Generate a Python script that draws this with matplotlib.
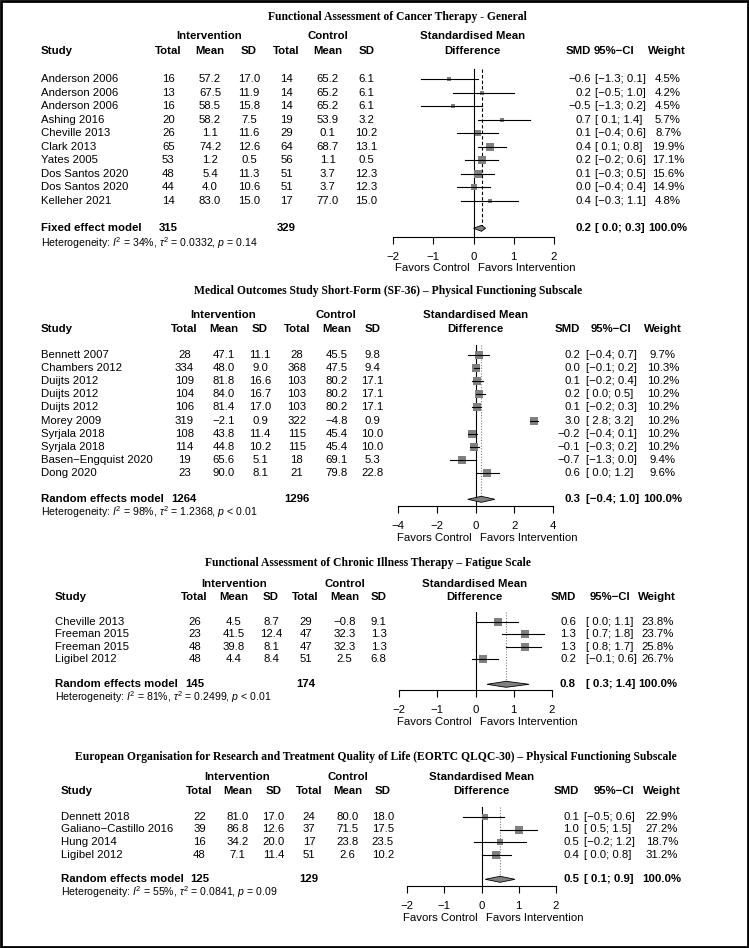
import matplotlib
matplotlib.use("Agg")
import matplotlib.pyplot as plt
from matplotlib.patches import Rectangle, Polygon
import numpy as np

plt.rcParams['font.family'] = ['Liberation Sans', 'DejaVu Sans']
plt.rcParams['mathtext.fontset'] = 'custom'
plt.rcParams['mathtext.rm'] = 'Liberation Sans'
plt.rcParams['mathtext.it'] = 'Liberation Sans:italic'
plt.rcParams['mathtext.bf'] = 'Liberation Sans:bold'
plt.rcParams['axes.unicode_minus'] = True

# ------------------------------------------------------------------ data
titles = [
    "Functional Assessment of Cancer Therapy - General",
    "Medical Outcomes Study Short-Form (SF-36) \u2013 Physical Functioning Subscale",
    "Functional Assessment of Chronic Illness Therapy \u2013 Fatigue Scale",
    "European Organisation for Research and Treatment Quality of Life (EORTC QLQC-30) \u2013 Physical Functioning Subscale",
]

# Panel 1 - FACT-G
p1_study = ["Anderson 2006", "Anderson 2006", "Anderson 2006", "Ashing 2016", "Cheville 2013",
            "Clark 2013", "Yates 2005", "Dos Santos 2020", "Dos Santos 2020", "Kelleher 2021"]
p1_int_n = [16, 13, 16, 20, 26, 65, 53, 48, 44, 14]
p1_int_mean = [57.2, 67.5, 58.5, 58.2, 1.1, 74.2, 1.2, 5.4, 4.0, 83.0]
p1_int_sd = [17.0, 11.9, 15.8, 7.5, 11.6, 12.6, 0.5, 11.3, 10.6, 15.0]
p1_ctl_n = [14, 14, 14, 19, 29, 64, 56, 51, 51, 17]
p1_ctl_mean = [65.2, 65.2, 65.2, 53.9, 0.1, 68.7, 1.1, 3.7, 3.7, 77.0]
p1_ctl_sd = [6.1, 6.1, 6.1, 3.2, 10.2, 13.1, 0.5, 12.3, 12.3, 15.0]
p1_smd = [-0.6, 0.2, -0.5, 0.7, 0.1, 0.4, 0.2, 0.1, 0.0, 0.4]
p1_lo = [-1.3, -0.5, -1.3, 0.1, -0.4, 0.1, -0.2, -0.3, -0.4, -0.3]
p1_hi = [0.1, 1.0, 0.2, 1.4, 0.6, 0.8, 0.6, 0.5, 0.4, 1.1]
p1_w = [4.5, 4.2, 4.5, 5.7, 8.7, 19.9, 17.1, 15.6, 14.9, 4.8]
p1_model = ["Fixed effect model", 315, 329, 0.2, 0.0, 0.3]
p1_het = [34, "0.0332", "= 0.14"]
p1_ticks = [-2, -1, 0, 1, 2]

# Panel 2 - SF-36 PF
p2_study = ["Bennett 2007", "Chambers 2012", "Duijts 2012", "Duijts 2012", "Duijts 2012",
            "Morey 2009", "Syrjala 2018", "Syrjala 2018", "Basen\u2212Engquist 2020", "Dong 2020"]
p2_int_n = [28, 334, 109, 104, 106, 319, 108, 114, 19, 23]
p2_int_mean = [47.1, 48.0, 81.8, 84.0, 81.4, -2.1, 43.8, 44.8, 65.6, 90.0]
p2_int_sd = [11.1, 9.0, 16.6, 16.7, 17.0, 0.9, 11.4, 10.2, 5.1, 8.1]
p2_ctl_n = [28, 368, 103, 103, 103, 322, 115, 115, 18, 21]
p2_ctl_mean = [45.5, 47.5, 80.2, 80.2, 80.2, -4.8, 45.4, 45.4, 69.1, 79.8]
p2_ctl_sd = [9.8, 9.4, 17.1, 17.1, 17.1, 0.9, 10.0, 10.0, 5.3, 22.8]
p2_smd = [0.2, 0.0, 0.1, 0.2, 0.1, 3.0, -0.2, -0.1, -0.7, 0.6]
p2_lo = [-0.4, -0.1, -0.2, 0.0, -0.2, 2.8, -0.4, -0.3, -1.3, 0.0]
p2_hi = [0.7, 0.2, 0.4, 0.5, 0.3, 3.2, 0.1, 0.2, 0.0, 1.2]
p2_w = [9.7, 10.3, 10.2, 10.2, 10.2, 10.2, 10.2, 10.2, 9.4, 9.6]
p2_model = ["Random effects model", 1264, 1296, 0.3, -0.4, 1.0]
p2_het = [98, "1.2368", "< 0.01"]
p2_ticks = [-4, -2, 0, 2, 4]

# Panel 3 - FACIT-Fatigue
p3_study = ["Cheville 2013", "Freeman 2015", "Freeman 2015", "Ligibel 2012"]
p3_int_n = [26, 23, 48, 48]
p3_int_mean = [4.5, 41.5, 39.8, 4.4]
p3_int_sd = [8.7, 12.4, 8.1, 8.4]
p3_ctl_n = [29, 47, 47, 51]
p3_ctl_mean = [-0.8, 32.3, 32.3, 2.5]
p3_ctl_sd = [9.1, 1.3, 1.3, 6.8]
p3_smd = [0.6, 1.3, 1.3, 0.2]
p3_lo = [0.0, 0.7, 0.8, -0.1]
p3_hi = [1.1, 1.8, 1.7, 0.6]
p3_w = [23.8, 23.7, 25.8, 26.7]
p3_model = ["Random effects model", 145, 174, 0.8, 0.3, 1.4]
p3_het = [81, "0.2499", "< 0.01"]
p3_ticks = [-2, -1, 0, 1, 2]

# Panel 4 - EORTC QLQ-C30 PF
p4_study = ["Dennett 2018", "Galiano\u2212Castillo 2016", "Hung 2014", "Ligibel 2012"]
p4_int_n = [22, 39, 16, 48]
p4_int_mean = [81.0, 86.8, 34.2, 7.1]
p4_int_sd = [17.0, 12.6, 20.0, 11.4]
p4_ctl_n = [24, 37, 17, 51]
p4_ctl_mean = [80.0, 71.5, 23.8, 2.6]
p4_ctl_sd = [18.0, 17.5, 23.5, 10.2]
p4_smd = [0.1, 1.0, 0.5, 0.4]
p4_lo = [-0.5, 0.5, -0.2, 0.0]
p4_hi = [0.6, 1.5, 1.2, 0.8]
p4_w = [22.9, 27.2, 18.7, 31.2]
p4_model = ["Random effects model", 125, 129, 0.5, 0.1, 0.9]
p4_het = [55, "0.0841", "= 0.09"]
p4_ticks = [-2, -1, 0, 1, 2]

# ------------------------------------------------------------------ layout (pixels)
W, H = 749, 948
layouts = [
    dict(title_y=17, title_x=397.6, h1=36, h2=51, row0=79, sp=13.5, model_y=228.3, het_y=243.3,
         axis_y=236.7, fav_y=268.3, top=69, fx0=393, fx1=554, study_x=40.6,
         hdr_c=[168.3, 210.1, 249, 286.5, 327.6, 366.5], int_c=208.7, ctl_c=327.6, std_c=472.8,
         smd_r=591, ci_l=595, ci_hc=613.6, wt_c=668, wt_hc=667, pooled="dashed"),
    dict(title_y=291, title_x=388, h1=315, h2=329.3, row0=355, sp=13.1, model_y=499.3, het_y=511.7,
         axis_y=506, fav_y=538.3, top=345, fx0=398, fx1=553, study_x=40.6,
         hdr_c=[184.4, 223.6, 260, 296.7, 336.7, 372.5], int_c=223, ctl_c=336.2, std_c=475.2,
         smd_r=580, ci_l=586.5, ci_hc=610.5, wt_c=663, wt_hc=662.5, pooled="dotted"),
    dict(title_y=562.7, title_x=368, h1=584, h2=596.7, row0=621.7, sp=12.55, model_y=684.3, het_y=696.7,
         axis_y=690, fav_y=722.3, top=612, fx0=399, fx1=552, study_x=55,
         hdr_c=[194.6, 234, 271, 305.6, 344.6, 378.7], int_c=234, ctl_c=345, std_c=474.7,
         smd_r=576, ci_l=585.5, ci_hc=610, wt_c=658, wt_hc=657, pooled="dotted"),
    dict(title_y=757.3, title_x=376, h1=776.7, h2=790.7, row0=816.7, sp=12.8, model_y=879.3, het_y=891.7,
         axis_y=886, fav_y=918.3, top=807, fx0=407, fx1=556, study_x=61.1,
         hdr_c=[199.4, 237.6, 273.6, 309, 347.4, 382.8], int_c=236.9, ctl_c=348.1, std_c=481.6,
         smd_r=579, ci_l=584.5, ci_hc=613.7, wt_c=662, wt_hc=661.9, pooled="dotted"),
]

panels = [
    (p1_study, p1_int_n, p1_int_mean, p1_int_sd, p1_ctl_n, p1_ctl_mean, p1_ctl_sd,
     p1_smd, p1_lo, p1_hi, p1_w, p1_model, p1_het, p1_ticks),
    (p2_study, p2_int_n, p2_int_mean, p2_int_sd, p2_ctl_n, p2_ctl_mean, p2_ctl_sd,
     p2_smd, p2_lo, p2_hi, p2_w, p2_model, p2_het, p2_ticks),
    (p3_study, p3_int_n, p3_int_mean, p3_int_sd, p3_ctl_n, p3_ctl_mean, p3_ctl_sd,
     p3_smd, p3_lo, p3_hi, p3_w, p3_model, p3_het, p3_ticks),
    (p4_study, p4_int_n, p4_int_mean, p4_int_sd, p4_ctl_n, p4_ctl_mean, p4_ctl_sd,
     p4_smd, p4_lo, p4_hi, p4_w, p4_model, p4_het, p4_ticks),
]

FS = 8.2
FS_HET = 7.6
FS_TITLE = 8.35
SQ_MAX_PX = 8.0
GREY = "#808080"

def m(v):
    return ("%.1f" % v).replace("-", "\u2212")

def ci(lo, hi):
    a = m(lo)
    if lo >= 0:
        a = " " + a
    return "[%s; %s]" % (a, m(hi))

fig = plt.figure(figsize=(W / 100, H / 100), dpi=100)
bg = fig.add_axes([0, 0, 1, 1])
bg.set_xlim(0, W)
bg.set_ylim(H, 0)
bg.axis("off")
bg.add_patch(Rectangle((1.2, 1.2), W - 2.4, H - 2.4, fill=False, lw=2.0, ec="black", zorder=10))

def T(x, y, s, ha="center", bold=False, size=FS, **kw):
    bg.text(x, y, s, ha=ha, va="center", fontsize=size,
            fontweight="bold" if bold else "normal", **kw)

for title, L, P in zip(titles, layouts, panels):
    (study, int_n, int_mean, int_sd, ctl_n, ctl_mean, ctl_sd,
     smd, lo, hi, w, model, het, ticks) = P
    # title
    bg.text(L["title_x"], L["title_y"], title, ha="center", va="center", fontsize=FS_TITLE,
            fontweight="bold", family=["Liberation Serif", "DejaVu Serif"])
    # headers
    T(L["int_c"], L["h1"], "Intervention", bold=True)
    T(L["ctl_c"], L["h1"], "Control", bold=True)
    T(L["std_c"], L["h1"], "Standardised Mean", bold=True)
    T(L["std_c"], L["h2"], "Difference", bold=True)
    T(L["study_x"], L["h2"], "Study", ha="left", bold=True)
    for xc, lab in zip(L["hdr_c"], ["Total", "Mean", "SD", "Total", "Mean", "SD"]):
        T(xc, L["h2"], lab, bold=True)
    T(L["smd_r"], L["h2"], "SMD", ha="right", bold=True)
    T(L["ci_hc"], L["h2"], "95%\u2212CI", bold=True)
    T(L["wt_hc"], L["h2"], "Weight", bold=True)

    ys = [L["row0"] + i * L["sp"] for i in range(len(study))]
    for i, y in enumerate(ys):
        T(L["study_x"], y, study[i], ha="left")
        vals = [str(int_n[i]), m(int_mean[i]), m(int_sd[i]),
                str(ctl_n[i]), m(ctl_mean[i]), m(ctl_sd[i])]
        for xc, v in zip(L["hdr_c"], vals):
            T(xc, y, v)
        T(L["smd_r"], y, m(smd[i]), ha="right")
        T(L["ci_l"], y, ci(lo[i], hi[i]), ha="left")
        T(L["wt_c"], y, "%.1f%%" % w[i])

    my = L["model_y"]
    T(L["study_x"], my, model[0], ha="left", bold=True)
    T(L["hdr_c"][0], my, str(model[1]), bold=True)
    T(L["hdr_c"][3], my, str(model[2]), bold=True)
    T(L["smd_r"], my, m(model[3]), ha="right", bold=True)
    T(L["ci_l"], my, ci(model[4], model[5]), ha="left", bold=True)
    T(L["wt_c"], my, "100.0%", bold=True)
    T(L["study_x"], L["het_y"],
      r"Heterogeneity: $I^2$ = %d%%, $\tau^2$ = %s, $p$ %s" % (het[0], het[1], het[2]),
      ha="left", size=FS_HET)

    # forest axes
    ax = fig.add_axes([L["fx0"] / W, 1 - L["axis_y"] / H,
                       (L["fx1"] - L["fx0"]) / W, (L["axis_y"] - L["top"]) / H])
    ax.set_xlim(ticks[0], ticks[-1])
    ax.set_ylim(L["axis_y"], L["top"])
    ax.patch.set_visible(False)
    for s in ["top", "left", "right"]:
        ax.spines[s].set_visible(False)
    ax.spines["bottom"].set_linewidth(0.8)
    ax.set_yticks([])
    ax.set_xticks(ticks)
    ax.set_xticklabels([("%d" % t).replace("-", "\u2212") for t in ticks])
    ax.tick_params(axis="x", direction="out", length=5, width=0.8, labelsize=FS, pad=6)

    ax.plot([0, 0], [L["top"], L["axis_y"]], color="black", lw=0.8, clip_on=False, zorder=1)
    if L["pooled"] == "dashed":
        ax.plot([model[3], model[3]], [L["top"], my], color="black", lw=0.8,
                linestyle=(0, (3, 2)), clip_on=False, zorder=1)
    else:
        ax.plot([model[3], model[3]], [L["top"], my], color=GREY, lw=0.8,
                linestyle=(0, (1, 1.5)), clip_on=False, zorder=1)

    wmax = max(w)
    for i, y in enumerate(ys):
        side = SQ_MAX_PX * np.sqrt(w[i] / wmax)
        ax.plot([smd[i]], [y], marker="s", ms=side * 0.72, mfc=GREY, mec=GREY, mew=0,
                zorder=2, clip_on=False)
        ax.plot([lo[i], hi[i]], [y, y], color="black", lw=0.8, zorder=3, clip_on=False)
    dh = 3.0
    ax.add_patch(Polygon([(model[4], my), (model[3], my - dh), (model[5], my), (model[3], my + dh)],
                         closed=True, fc=GREY, ec="black", lw=0.6, zorder=3, clip_on=False))

    x0 = (L["fx0"] + (L["fx1"] - L["fx0"]) * (0 - ticks[0]) / (ticks[-1] - ticks[0]))
    T(x0 - 4, L["fav_y"], "Favors Control", ha="right")
    T(x0 + 5, L["fav_y"], "Favors Intervention", ha="left")

fig.savefig("out.png", dpi=100)
